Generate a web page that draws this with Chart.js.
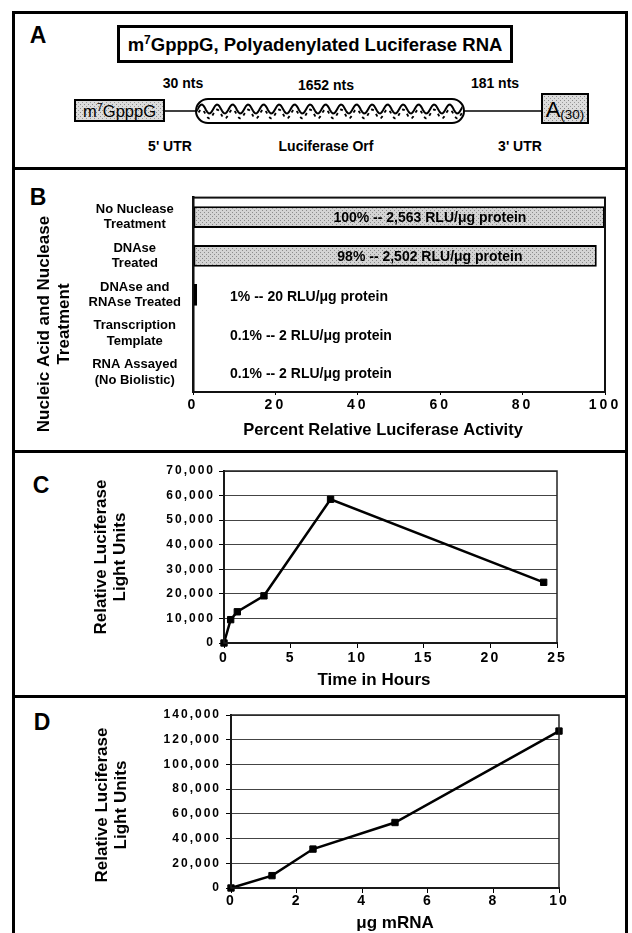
<!DOCTYPE html>
<html>
<head>
<meta charset="utf-8">
<script src="https://cdn.jsdelivr.net/npm/chart.js@4.4.1/dist/chart.umd.min.js"></script>
<style>
  html,body{margin:0;padding:0;background:#fff;}
  body{width:632px;height:933px;overflow:hidden;position:relative;font-family:"Liberation Sans",Arial,Helvetica,sans-serif;color:#000;}
  .abs{position:absolute;}
  .frame{position:absolute;left:12px;top:11px;width:610px;height:950px;border:3px solid #000;}
  .div{position:absolute;left:12px;width:616px;height:3px;background:#000;}
  .lbl{position:absolute;font-weight:bold;font-size:23px;line-height:1;transform:translate(-50%,-50%);}
  canvas{position:absolute;}
</style>
</head>
<body>
<div class="frame"></div>
<div class="div" style="top:167px"></div>
<div class="div" style="top:450px"></div>
<div class="div" style="top:695px"></div>

<div class="lbl" style="left:38px;top:35px">A</div>
<div class="lbl" style="left:38px;top:197px">B</div>
<div class="lbl" style="left:41px;top:485px">C</div>
<div class="lbl" style="left:42px;top:722px">D</div>

<svg class="abs" style="left:0;top:0" width="632" height="166" xmlns="http://www.w3.org/2000/svg" font-family="Liberation Sans, Arial, sans-serif">
  <defs>
    <pattern id="stip" width="4" height="4" patternUnits="userSpaceOnUse">
      <rect width="4" height="4" fill="#dcdcdc"/>
      <rect x="0" y="0" width="1" height="1" fill="#8a8a8a"/>
      <rect x="2" y="2" width="1" height="1" fill="#9a9a9a"/>
    </pattern>
    <clipPath id="pillClip"><rect x="197" y="100" width="266" height="22" rx="11" ry="11"/></clipPath>
  </defs>
  <rect x="118.5" y="26.5" width="393" height="35" fill="#fff" stroke="#000" stroke-width="3"/>
  <text x="315" y="51" text-anchor="middle" font-size="18.5" font-weight="bold">m<tspan dy="-7" font-size="12">7</tspan><tspan dy="7">GpppG, Polyadenylated Luciferase RNA</tspan></text>

  <text x="183" y="88" text-anchor="middle" font-size="14" font-weight="bold">30 nts</text>
  <text x="326" y="90" text-anchor="middle" font-size="14" font-weight="bold">1652 nts</text>
  <text x="495" y="88" text-anchor="middle" font-size="14" font-weight="bold">181 nts</text>

  <line x1="164" y1="111" x2="197" y2="111" stroke="#000" stroke-width="1.5"/>
  <line x1="463" y1="111" x2="542" y2="111" stroke="#000" stroke-width="1.5"/>

  <rect x="75" y="100" width="89" height="21" fill="url(#stip)" stroke="#000" stroke-width="2"/>
  <text x="119.5" y="116.5" text-anchor="middle" font-size="16.5">m<tspan dy="-6" font-size="11">7</tspan><tspan dy="6">GpppG</tspan></text>

  <rect x="196" y="99" width="268" height="24" rx="12" ry="12" fill="#fff" stroke="none"/>
  <g clip-path="url(#pillClip)">
    <path id="wave1" fill="none" stroke="#000" stroke-width="2"/>
    <path id="wave2" fill="none" stroke="#000" stroke-width="1.8" stroke-dasharray="3 4"/>
  </g>
  <rect x="196" y="99" width="268" height="24" rx="12" ry="12" fill="none" stroke="#000" stroke-width="2"/>

  <rect x="542" y="94" width="46" height="29" fill="url(#stip)" stroke="#000" stroke-width="2"/>
  <text x="565" y="117" text-anchor="middle" font-size="22">A<tspan font-size="13.5" dy="2">(30)</tspan></text>

  <text x="170" y="151" text-anchor="middle" font-size="14" font-weight="bold">5' UTR</text>
  <text x="326" y="151" text-anchor="middle" font-size="14" font-weight="bold">Luciferase Orf</text>
  <text x="520" y="151" text-anchor="middle" font-size="14" font-weight="bold">3' UTR</text>
</svg>

<canvas id="chartB" width="612" height="276" style="left:14px;top:170px"></canvas>
<canvas id="chartC" width="612" height="240" style="left:14px;top:454px"></canvas>
<canvas id="chartD" width="612" height="234" style="left:14px;top:699px"></canvas>

<script>
// ---------- data ----------
const bCategories = [["No Nuclease","Treatment"],["DNAse","Treated"],["DNAse and","RNAse Treated"],["Transcription","Template"],["RNA Assayed","(No Biolistic)"]];
const bPercent = [100, 98, 1, 0.1, 0.1];
const bBarLabels = ["100% -- 2,563 RLU/\u03bcg protein","98% -- 2,502 RLU/\u03bcg protein","1% -- 20 RLU/\u03bcg protein","0.1% -- 2 RLU/\u03bcg protein","0.1% -- 2 RLU/\u03bcg protein"];
const bTicks = [0, 20, 40, 60, 80, 100];

const cHours = [0, 0.5, 1, 3, 8, 24];
const cRLU = [0, 9500, 12700, 19200, 58500, 24700];
const cXTicks = [0, 5, 10, 15, 20, 25];
const cYTicks = [0, 10000, 20000, 30000, 40000, 50000, 60000, 70000];

const dMicrograms = [0, 1.25, 2.5, 5, 10];
const dRLU = [0, 10000, 31500, 53000, 127000];
const dXTicks = [0, 2, 4, 6, 8, 10];
const dYTicks = [0, 20000, 40000, 60000, 80000, 100000, 120000, 140000];

// ---------- panel A wave decoration ----------
(function(){
  let p1 = '', p2 = '';
  const period = 15.5, amp = 4.5;
  for (let x = 190; x <= 470; x += 1) {
    const ph = (x - 190) / period * 2 * Math.PI;
    const y1 = 109 + amp * Math.sin(ph);
    const y2 = 114 + amp * Math.sin(ph);
    p1 += (x === 190 ? 'M' : 'L') + x + ' ' + y1.toFixed(2) + ' ';
    p2 += (x === 190 ? 'M' : 'L') + x + ' ' + y2.toFixed(2) + ' ';
  }
  document.getElementById('wave1').setAttribute('d', p1);
  document.getElementById('wave2').setAttribute('d', p2);
})();

// ---------- chart helpers ----------
const FONT = "'Liberation Sans', Arial, Helvetica, sans-serif";
Chart.defaults.font.family = FONT;
Chart.defaults.color = '#000';

const fmt = v => String(v).replace(/\B(?=(\d{3})+(?!\d))/g, ',');
const setTicks = arr => (s => { s.ticks = arr.map(v => ({value: v})); });

function stipple() {
  const c = document.createElement('canvas');
  c.width = 4; c.height = 4;
  const x = c.getContext('2d');
  x.fillStyle = '#d4d4d4'; x.fillRect(0, 0, 4, 4);
  x.fillStyle = '#8c8c8c'; x.fillRect(0, 0, 1, 1); x.fillRect(2, 2, 1, 1);
  return x.createPattern(c, 'repeat');
}

const decor = {
  id: 'decor',
  afterDatasetsDraw(chart, args, o) {
    const ctx = chart.ctx, a = chart.chartArea;
    ctx.save();
    ctx.strokeStyle = o.frameColor || '#000';
    ctx.lineWidth = o.frameWidth || 1.5;
    ctx.strokeRect(a.left, a.top, a.right - a.left, a.bottom - a.top);
    ctx.restore();
    if (o.barLabels) {
      const xs = chart.scales.x;
      const meta = chart.getDatasetMeta(0);
      ctx.save();
      ctx.font = 'bold 14px ' + FONT;
      ctx.fillStyle = '#000';
      ctx.textBaseline = 'middle';
      meta.data.forEach((bar, i) => {
        const v = chart.data.datasets[0].data[i];
        if (v >= 50) {
          ctx.textAlign = 'center';
          ctx.fillText(o.barLabels[i], xs.getPixelForValue(57.5), bar.y + 1);
        } else {
          ctx.textAlign = 'left';
          ctx.fillText(o.barLabels[i], xs.getPixelForValue(9), bar.y + 2);
        }
      });
      ctx.restore();
    }
    ctx.letterSpacing = o.tickSpacing || '0px';
  },
  afterDraw(chart, args, o) {
    const ctx = chart.ctx;
    ctx.letterSpacing = '0px';
    (o.titles || []).forEach(t => {
      ctx.save();
      ctx.font = t.font;
      ctx.fillStyle = '#000';
      ctx.textAlign = 'center';
      ctx.textBaseline = 'middle';
      ctx.translate(t.x, t.y);
      if (t.rotate) ctx.rotate(-Math.PI / 2);
      t.lines.forEach((ln, i) => ctx.fillText(ln, 0, (i - (t.lines.length - 1) / 2) * t.lh));
      ctx.restore();
    });
  }
};

const base = {responsive: false, animation: false, devicePixelRatio: 1};

// ---------- Panel B ----------
new Chart(document.getElementById('chartB'), {
  type: 'bar',
  data: {
    labels: bCategories,
    datasets: [{
      data: bPercent,
      backgroundColor: stipple(),
      borderColor: '#000',
      borderWidth: 2,
      borderSkipped: false,
      barPercentage: 0.56,
      categoryPercentage: 1
    }]
  },
  options: Object.assign({}, base, {
    indexAxis: 'y',
    layout: {padding: {top: 25, right: 21, left: 0, bottom: 0}},
    plugins: {
      legend: {display: false}, tooltip: {enabled: false},
      decor: {
        frameColor: '#111', frameWidth: 2,
        tickSpacing: '3px',
        barLabels: bBarLabels,
        titles: [
          {lines: ['Nucleic Acid and Nuclease', 'Treatment'], x: 40, y: 154, rotate: true, lh: 20, font: 'bold 17px ' + FONT},
          {lines: ['Percent Relative Luciferase Activity'], x: 369, y: 260, lh: 18, font: 'bold 16.5px ' + FONT}
        ]
      }
    },
    scales: {
      x: {
        type: 'linear', min: 0, max: 100,
        afterBuildTicks: setTicks(bTicks),
        afterFit: s => { s.height = 54; },
        grid: {display: true, drawOnChartArea: false, drawTicks: true, tickLength: 3, color: '#000'},
        border: {display: true, color: '#000', width: 2},
        ticks: {font: {size: 14, weight: 'bold'}, padding: 2, z: 1, maxRotation: 0, autoSkip: false}
      },
      y: {
        afterFit: s => { s.width = 179; },
        grid: {display: false, drawTicks: false},
        border: {display: true, color: '#000', width: 2.5},
        ticks: {font: {size: 13, weight: 'bold', lineHeight: 1.2}, crossAlign: 'center', padding: 12, autoSkip: false}
      }
    }
  }),
  plugins: [decor]
});

// ---------- line chart factory ----------
function lineChart(id, xs, ys, xTicks, yTicks, geo, titles) {
  return new Chart(document.getElementById(id), {
    type: 'line',
    data: {
      datasets: [{
        data: xs.map((x, i) => ({x: x, y: ys[i]})),
        borderColor: '#000', borderWidth: 2.5,
        pointStyle: 'rect', pointRadius: 4.5, pointHoverRadius: 4.5,
        pointBackgroundColor: '#000', pointBorderColor: '#000', pointBorderWidth: 1,
        tension: 0, clip: false
      }]
    },
    options: Object.assign({}, base, {
      layout: {padding: {top: geo.top, right: geo.right, left: 0, bottom: 0}},
      plugins: {
        legend: {display: false}, tooltip: {enabled: false},
        decor: {frameColor: '#222', frameWidth: 1.5, tickSpacing: '2px', titles: titles}
      },
      scales: {
        x: {
          type: 'linear', min: xTicks[0], max: xTicks[xTicks.length - 1],
          afterBuildTicks: setTicks(xTicks),
          afterFit: s => { s.height = geo.xh; },
          grid: {display: true, drawOnChartArea: false, drawTicks: true, tickLength: 5, color: '#000'},
          border: {display: true, color: '#000', width: 2},
          ticks: {font: {size: 14, weight: 'bold'}, padding: geo.xpad, z: 1, maxRotation: 0, autoSkip: false}
        },
        y: {
          type: 'linear', min: yTicks[0], max: yTicks[yTicks.length - 1],
          afterBuildTicks: setTicks(yTicks),
          afterFit: s => { s.width = geo.yw; },
          grid: {display: true, color: '#444', lineWidth: 1, drawTicks: true, tickLength: 5, tickColor: '#000'},
          border: {display: true, color: '#000', width: 2},
          ticks: {font: {size: 12, weight: 'bold'}, padding: geo.ypad, z: 1, autoSkip: false, callback: v => fmt(v)}
        }
      }
    }),
    plugins: [decor]
  });
}

// ---------- Panel C ----------
lineChart('chartC', cHours, cRLU, cXTicks, cYTicks,
  {top: 17, right: 69, xh: 51, yw: 210, xpad: 2, ypad: 4},
  [
    {lines: ['Relative Luciferase', 'Light Units'], x: 96.5, y: 103, rotate: true, lh: 19, font: 'bold 17px ' + FONT},
    {lines: ['Time in Hours'], x: 360, y: 226, lh: 18, font: 'bold 17px ' + FONT}
  ]);

// ---------- Panel D ----------
lineChart('chartD', dMicrograms, dRLU, dXTicks, dYTicks,
  {top: 16, right: 67, xh: 45, yw: 217, xpad: 0, ypad: 5},
  [
    {lines: ['Relative Luciferase', 'Light Units'], x: 97.5, y: 106, rotate: true, lh: 19, font: 'bold 17px ' + FONT},
    {lines: ['\u03bcg mRNA'], x: 381, y: 224, lh: 18, font: 'bold 17px ' + FONT}
  ]);
</script>
</body>
</html>
